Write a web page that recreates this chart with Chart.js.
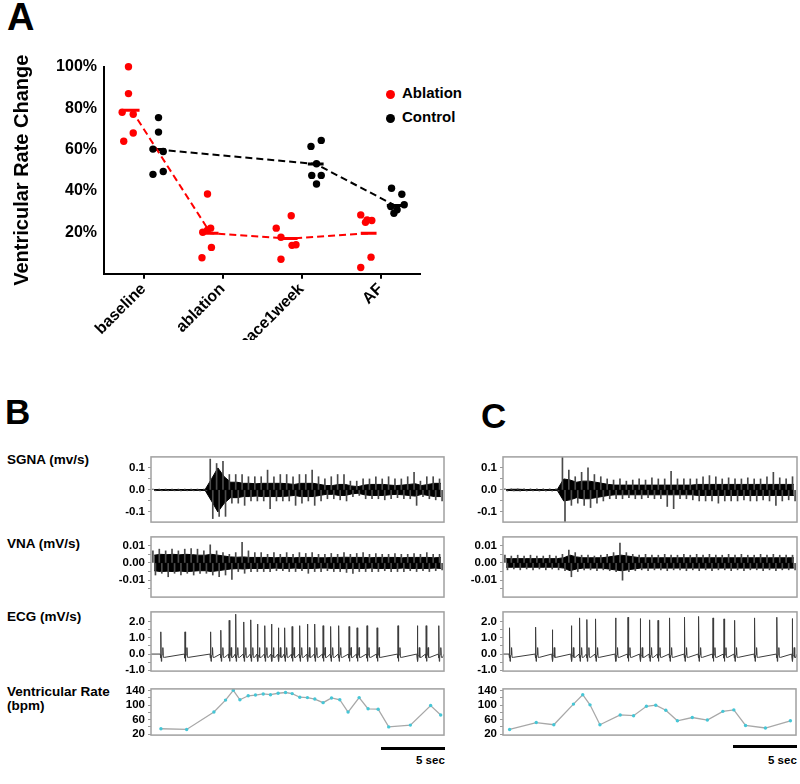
<!DOCTYPE html>
<html>
<head>
<meta charset="utf-8">
<script src="https://cdn.jsdelivr.net/npm/chart.js@4.4.1/dist/chart.umd.min.js"></script>
<style>
  body { margin: 0; background: #fff; }
  #page { position: relative; width: 800px; height: 784px; overflow: hidden;
          font-family: "Liberation Sans", Arial, sans-serif; font-weight: bold; color: #000; }
  .t { position: absolute; white-space: nowrap; line-height: 1; }
  canvas { position: absolute; }
  .bar { position: absolute; background: #000; height: 3px; }
  .dot { position: absolute; width: 9px; height: 9px; border-radius: 50%; }
</style>
</head>
<body>
<div id="page">
  <div class="t" style="left:7px;top:-2px;font-size:38px;">A</div>
  <div class="t" style="left:5px;top:394px;font-size:35px;">B</div>
  <div class="t" style="left:481px;top:398px;font-size:35px;">C</div>

  <div class="dot" style="left:386px;top:90px;background:#f00;"></div>
  <div class="t" style="left:402px;top:85px;font-size:15px;">Ablation</div>
  <div class="dot" style="left:386px;top:114px;background:#000;"></div>
  <div class="t" style="left:402px;top:109px;font-size:15px;">Control</div>

  <div class="t" style="left:7px;top:453px;font-size:13.5px;">SGNA (mv/s)</div>
  <div class="t" style="left:7px;top:537px;font-size:13.5px;">VNA (mV/s)</div>
  <div class="t" style="left:7px;top:610px;font-size:13.5px;">ECG (mV/s)</div>
  <div class="t" style="left:7px;top:685px;font-size:13.5px;">Ventricular Rate</div>
  <div class="t" style="left:7px;top:699px;font-size:13.5px;">(bpm)</div>

  <div class="bar" style="left:381px;top:747px;width:64px;"></div>
  <div class="t" style="left:416px;top:755px;font-size:11.5px;">5 sec</div>
  <div class="bar" style="left:733px;top:745px;width:64px;"></div>
  <div class="t" style="left:768px;top:755px;font-size:11.5px;">5 sec</div>

  <canvas id="chartA" width="480" height="340" style="left:0;top:0;"></canvas>

  <canvas id="sgnaB" width="350" height="85" style="left:100px;top:447px;"></canvas>
  <canvas id="vnaB" width="350" height="80" style="left:100px;top:527px;"></canvas>
  <canvas id="ecgB" width="350" height="79" style="left:100px;top:602px;"></canvas>
  <canvas id="vrB" width="350" height="66" style="left:100px;top:679px;"></canvas>

  <canvas id="sgnaC" width="348" height="85" style="left:452px;top:447px;"></canvas>
  <canvas id="vnaC" width="348" height="80" style="left:452px;top:527px;"></canvas>
  <canvas id="ecgC" width="348" height="79" style="left:452px;top:602px;"></canvas>
  <canvas id="vrC" width="348" height="66" style="left:452px;top:679px;"></canvas>
</div>

<script>
// ---- panel A: ventricular rate change per group ----
const groups = ['baseline', 'ablation', 'pace1week', 'AF'];
const yTicksA = [20, 40, 60, 80, 100];

const ablationVals = [
  [100, 87, 78, 77, 68, 64],
  [38.5, 20, 21, 22, 12.7, 7.7],
  [22, 28, 17.6, 13.7, 14, 7],
  [28.4, 26, 25.7, 24.8, 8, 3]
];
const ablationJitter = [
  [-0.19, -0.19, -0.27, -0.13, -0.13, -0.25],
  [-0.19, -0.25, -0.19, -0.15, -0.14, -0.26],
  [-0.32, -0.13, -0.26, -0.12, -0.07, -0.26],
  [-0.25, -0.17, -0.11, -0.19, -0.12, -0.25]
];
const ablationMeans = [79, 19.5, 17, 19.5];

const controlGroups = [0, 2, 3];
const controlVals = [
  [75.4, 68.4, 60.2, 59, 48, 49.4],
  [61.5, 64.4, 53.1, 47.5, 47.5, 43.3],
  [41.3, 38.4, 32.5, 30.9, 33.3, 29.2]
];
const controlJitter = [
  [0.19, 0.19, 0.12, 0.25, 0.12, 0.25],
  [0.12, 0.25, 0.19, 0.13, 0.25, 0.19],
  [0.14, 0.27, 0.13, 0.21, 0.3, 0.17]
];
const controlMeans = [60, 53, 33];

// ---- panels B/C: recordings, 0.5 s bins for the nerve traces ----
const traceSeconds = 23;
const binSec = 0.5;

const sgnaBHi = [0.004,0.004,0.004,0.004,0.004,0.004,0.004,0.004,0.004, 0.14,0.12,0.13,
  0.07,0.07,0.07,0.06,0.06,0.06, 0.09,0.06,0.07,0.07,0.06,0.07, 0.07,0.09,0.06,0.05,0.06,0.07,
  0.07,0.04,0.04,0.05,0.05,0.06, 0.05,0.06,0.05,0.05,0.06,0.08, 0.04,0.06,0.06,0.05];
const sgnaBLo = [-0.004,-0.004,-0.004,-0.004,-0.004,-0.004,-0.004,-0.004,-0.004, -0.13,-0.12,-0.12,
  -0.06,-0.06,-0.07,-0.05,-0.05,-0.05, -0.085,-0.05,-0.05,-0.05,-0.07,-0.06, -0.05,-0.07,-0.05,-0.04,-0.04,-0.045,
  -0.05,-0.03,-0.025,-0.04,-0.04,-0.04, -0.045,-0.04,-0.035,-0.04,-0.04,-0.07, -0.03,-0.04,-0.045,-0.05];
const sgnaBCore = [0.002,0.002,0.002,0.002,0.002,0.002,0.002,0.002,0.002, 0.05,0.1,0.06,
  0.035,0.035,0.03,0.03,0.028,0.03, 0.03,0.03,0.03,0.028,0.025,0.03, 0.03,0.03,0.025,0.02,0.02,0.025,
  0.025,0.018,0.015,0.022,0.025,0.025, 0.025,0.022,0.02,0.022,0.025,0.028, 0.02,0.025,0.03,0.03];

const sgnaCHi = [0.005,0.005,0.005,0.005,0.005,0.005,0.005,0.005,0.005, 0.155,0.09,0.06,
  0.08,0.1,0.07,0.06,0.05,0.045, 0.05,0.04,0.045,0.05,0.045,0.055, 0.05,0.05,0.085,0.05,0.05,0.05,
  0.05,0.06,0.065,0.06,0.05,0.055, 0.05,0.05,0.055,0.05,0.05,0.06, 0.08,0.055,0.05,0.06];
const sgnaCLo = [-0.005,-0.005,-0.005,-0.005,-0.005,-0.005,-0.005,-0.005,-0.005, -0.155,-0.07,-0.06,
  -0.07,-0.08,-0.06,-0.05,-0.04,-0.04, -0.04,-0.035,-0.04,-0.04,-0.035,-0.04, -0.04,-0.075,-0.085,-0.04,-0.04,-0.045,
  -0.05,-0.05,-0.05,-0.06,-0.05,-0.05, -0.05,-0.045,-0.05,-0.05,-0.045,-0.05, -0.07,-0.05,-0.045,-0.05];
const sgnaCCore = [0.002,0.003,0.003,0.002,0.002,0.002,0.002,0.002,0.002, 0.05,0.045,0.035,
  0.04,0.04,0.035,0.03,0.025,0.022, 0.022,0.022,0.022,0.022,0.022,0.022, 0.022,0.022,0.022,0.022,0.022,0.022,
  0.025,0.025,0.025,0.025,0.025,0.025, 0.025,0.025,0.025,0.025,0.025,0.025, 0.025,0.025,0.025,0.025];

const vnaBHi = [0.007,0.008,0.007,0.008,0.007,0.008,0.0084,0.008,0.007, 0.0105,0.007,0.006,
  0.005,0.006,0.012,0.007,0.006,0.006, 0.005,0.006,0.005,0.006,0.005,0.006, 0.0055,0.006,0.005,0.005,0.0055,0.005,
  0.006,0.005,0.0055,0.006,0.005,0.0055, 0.005,0.005,0.0055,0.005,0.005,0.0055, 0.005,0.006,0.005,0.005];
const vnaBLo = [-0.007,-0.006,-0.008,-0.006,-0.007,-0.006,-0.007,-0.006,-0.006, -0.007,-0.008,-0.007,
  -0.0095,-0.005,-0.006,-0.005,-0.005,-0.005, -0.005,-0.0045,-0.0045,-0.005,-0.005,-0.0045, -0.006,-0.005,-0.005,-0.0045,-0.005,-0.005,
  -0.0055,-0.006,-0.005,-0.005,-0.005,-0.005, -0.0045,-0.005,-0.005,-0.005,-0.0045,-0.005, -0.0045,-0.005,-0.0045,-0.004];
const vnaBCore = [0.0045,0.005,0.0048,0.005,0.0047,0.005,0.0048,0.0045,0.0045, 0.005,0.0045,0.004,
  0.0035,0.0033,0.0035,0.0032,0.0032,0.0032, 0.0032,0.003,0.0032,0.0032,0.003,0.0032, 0.0032,0.0032,0.003,0.003,0.0032,0.0032,
  0.0033,0.0032,0.0032,0.0032,0.003,0.0032, 0.0032,0.0032,0.0032,0.003,0.0032,0.0032, 0.0032,0.0032,0.003,0.0032];

const vnaCHi = [0.0045,0.004,0.0045,0.004,0.0045,0.004,0.004,0.0045,0.004, 0.005,0.0075,0.006,
  0.0045,0.0045,0.004,0.0045,0.005,0.006, 0.0115,0.006,0.005,0.0045,0.005,0.0045, 0.0045,0.005,0.0045,0.0045,0.005,0.0045,
  0.005,0.0045,0.005,0.0045,0.0045,0.005, 0.0045,0.005,0.0045,0.0045,0.005,0.0045, 0.005,0.0045,0.0045,0.0045];
const vnaCLo = [-0.004,-0.0035,-0.004,-0.0035,-0.004,-0.0035,-0.004,-0.0035,-0.004, -0.0045,-0.008,-0.005,
  -0.004,-0.004,-0.0045,-0.004,-0.0045,-0.005, -0.01,-0.005,-0.0045,-0.004,-0.0045,-0.004, -0.004,-0.0045,-0.004,-0.004,-0.0045,-0.004,
  -0.0045,-0.004,-0.0045,-0.004,-0.004,-0.0045, -0.004,-0.0045,-0.004,-0.004,-0.0045,-0.004, -0.0045,-0.004,-0.004,-0.004];
const vnaCCore = [0.0025,0.0025,0.0025,0.0025,0.0025,0.0025,0.0025,0.0025,0.0025, 0.003,0.0045,0.0035,
  0.003,0.003,0.003,0.003,0.0035,0.004, 0.0045,0.004,0.0035,0.003,0.003,0.003, 0.003,0.003,0.003,0.003,0.003,0.003,
  0.003,0.003,0.003,0.003,0.003,0.003, 0.003,0.003,0.003,0.003,0.003,0.003, 0.003,0.003,0.003,0.003];

// ECG: R-wave times (s) and heights (mV/s), plus one beat shape
const ecgBTimes = [0.78,2.67,4.68,5.49,6.14,6.66,7.29,7.84,8.36,8.94,9.46,10.0,10.5,11.08,11.68,12.28,12.86,13.51,14.11,14.74,15.55,16.18,16.96,17.75,19.39,20.91,21.6,22.6];
const ecgBPeaks = [1.37,1.37,1.37,1.47,2.08,2.46,1.98,2.11,1.85,1.75,1.85,1.62,1.62,1.7,1.75,1.85,1.85,1.75,1.7,1.75,1.7,1.62,1.75,1.62,1.75,1.75,1.75,1.75];
const ecgCTimes = [0.52,2.56,3.86,5.35,6.0,6.57,7.25,8.81,9.78,10.74,11.47,12.13,13.04,14.21,15.31,16.43,17.29,18.12,19.69,21.43,22.63];
const ecgCPeaks = [1.62,1.66,1.5,1.75,2.23,2.13,2.17,2.23,2.27,2.19,2.11,2.08,2.23,2.27,2.32,2.23,2.17,2.08,2.23,2.27,2.19];
const beatDt = [-0.05, -0.02, 0, 0.03, 0.06, 0.12, 0.15, 0.19, 0.3];
const beatV  = [0, -0.25, null, -0.45, -0.1, -0.05, 0.4, -0.2, -0.2];

const vrBTimes = [0.78,2.8,4.94,5.85,6.46,6.98,7.63,8.2,8.81,9.38,9.98,10.56,11.08,11.68,12.28,12.86,13.51,14.17,14.82,15.47,16.34,17.04,17.83,18.66,20.36,21.95,22.74];
const vrBRates = [35,33,81,114,141,115,126,128,131,129,133,135,132,122,121,117,107,120,115,81,121,90,89,40,45,99,73];
const vrCTimes = [0.52,2.61,3.99,5.53,6.26,6.83,7.61,9.2,10.25,11.26,11.99,12.78,13.69,14.86,16.04,17.26,18.12,19.04,20.6,22.56];
const vrCRates = [33,52,46,103,129,101,46,73,71,97,100,86,57,66,59,83,87,44,37,57];

// ---- shared setup ----
Chart.defaults.font.family = '"Liberation Sans", Arial, sans-serif';
Chart.defaults.color = '#000';
Chart.defaults.animation = false;
Chart.defaults.responsive = false;
Chart.defaults.plugins.legend.display = false;
Chart.defaults.plugins.tooltip.enabled = false;

const RED = '#f00';
const ablationCenter = -0.15;
const controlCenter = 0.18;
const meanHalf = 0.1;

// grey box round each recording
const framePlugin = {
  id: 'frame',
  afterDatasetsDraw(chart) {
    const { ctx, chartArea: a } = chart;
    ctx.save();
    ctx.strokeStyle = '#a0a0a0';
    ctx.lineWidth = 1.5;
    ctx.strokeRect(a.left, a.top, a.right - a.left, a.bottom - a.top);
    ctx.restore();
  }
};

function meanSegments(idx, means, center) {
  const pts = [];
  means.forEach((m, i) => {
    pts.push({ x: idx[i] + center - meanHalf, y: m }, { x: idx[i] + center + meanHalf, y: m }, { x: idx[i], y: null });
  });
  return pts;
}

function groupPoints(idx, vals, jitter) {
  const pts = [];
  vals.forEach((arr, g) => arr.forEach((v, k) => pts.push({ x: idx[g] + jitter[g][k], y: v })));
  return pts;
}

const ablationIdx = groups.map((g, i) => i);

new Chart(document.getElementById('chartA'), {
  type: 'line',
  data: {
    datasets: [
      { data: groupPoints(ablationIdx, ablationVals, ablationJitter), showLine: false, clip: false,
        pointRadius: 3.7, pointBackgroundColor: RED, pointBorderWidth: 0 },
      { data: groupPoints(controlGroups, controlVals, controlJitter), showLine: false, clip: false,
        pointRadius: 3.7, pointBackgroundColor: '#000', pointBorderWidth: 0 },
      { data: ablationMeans.map((m, i) => ({ x: ablationIdx[i] + ablationCenter, y: m })),
        borderColor: RED, borderWidth: 2, borderDash: [7, 4], pointRadius: 0 },
      { data: controlMeans.map((m, i) => ({ x: controlGroups[i] + controlCenter, y: m })),
        borderColor: '#000', borderWidth: 2, borderDash: [7, 4], pointRadius: 0 },
      { data: meanSegments(ablationIdx, ablationMeans, ablationCenter), spanGaps: false,
        borderColor: RED, borderWidth: 3, pointRadius: 0 },
      { data: meanSegments(controlGroups, controlMeans, controlCenter), spanGaps: false,
        borderColor: '#000', borderWidth: 3, pointRadius: 0 }
    ]
  },
  options: {
    layout: { padding: { left: 0, top: 66.7, right: 60, bottom: 0 } },
    scales: {
      x: {
        type: 'linear', min: -0.5, max: groups.length - 0.5,
        afterBuildTicks: s => { s.ticks = groups.map((g, i) => ({ value: i })); },
        afterFit: s => { s.height = 66.3; },
        border: { display: true, color: '#000', width: 2 },
        grid: { display: true, drawOnChartArea: false, drawTicks: true, tickLength: 5, color: '#000', lineWidth: 2 },
        ticks: { autoSkip: false, minRotation: 45, maxRotation: 45, padding: 1,
                 font: { size: 16, weight: 'bold' }, color: '#000', callback: v => groups[v] }
      },
      y: {
        min: 0, max: 100,
        afterBuildTicks: s => { s.ticks = yTicksA.map(v => ({ value: v })); },
        afterFit: s => { s.width = 104; },
        border: { display: true, color: '#000', width: 2 },
        grid: { display: false, drawTicks: false },
        ticks: { padding: 7, font: { size: 16, weight: 'bold' }, color: '#000', callback: v => v + '%' },
        title: { display: true, text: 'Ventricular Rate Change', color: '#000',
                 font: { size: 20, weight: 'bold' }, padding: { top: 10, bottom: 0 } }
      }
    }
  }
});

// noise trace: dense black core band, with thin grey up/down spikes to each bin's peaks
function noiseSets(hi, lo, core) {
  const up = [], down = [], top = [], bot = [];
  hi.forEach((h, k) => {
    const t0 = k * binSec;
    up.push({ x: t0 + binSec * 0.3, y: [0, h] });
    down.push({ x: t0 + binSec * 0.7, y: [lo[k], 0] });
    top.push({ x: t0 + binSec / 2, y: core[k] });
    bot.push({ x: t0 + binSec / 2, y: -core[k] });
  });
  const spike = { type: 'bar', grouped: false, barThickness: 1, backgroundColor: '#4a4a4a', borderWidth: 0 };
  return [
    Object.assign({ data: up }, spike),
    Object.assign({ data: down }, spike),
    { data: top, borderColor: '#000', borderWidth: 1, pointRadius: 0, fill: '+1', backgroundColor: '#000' },
    { data: bot, borderColor: '#000', borderWidth: 1, pointRadius: 0 }
  ];
}

function ecgSet(times, peaks) {
  const pts = [{ x: 0, y: 0 }];
  times.forEach((t, i) => {
    beatDt.forEach((dt, j) => pts.push({ x: t + dt, y: beatV[j] === null ? peaks[i] : beatV[j] }));
  });
  pts.push({ x: traceSeconds, y: 0 });
  return [{ data: pts, borderColor: '#3c3c3c', borderWidth: 1, pointRadius: 0 }];
}

function rateSet(times, rates) {
  return [{ data: times.map((t, i) => ({ x: t, y: rates[i] })), borderColor: '#a8a8a8', borderWidth: 1.3,
            pointRadius: 1.7, pointBackgroundColor: '#45c6d6', pointBorderWidth: 0 }];
}

function traceChart(id, datasets, yMin, yMax, major, minor, decimals, padRight) {
  new Chart(document.getElementById(id), {
    type: 'line',
    data: { datasets },
    plugins: [framePlugin],
    options: {
      layout: { padding: { left: 0, top: 8, bottom: 8, right: padRight } },
      scales: {
        x: { type: 'linear', min: 0, max: traceSeconds, offset: false, display: false },
        y: {
          min: yMin, max: yMax,
          afterBuildTicks: s => { s.ticks = major.concat(minor).map(v => ({ value: v })); },
          afterFit: s => { s.width = 51; },
          border: { display: false },
          grid: { drawOnChartArea: false, drawTicks: true, tickLength: 3, color: '#999' },
          ticks: { padding: 3, autoSkip: false, font: { size: 11.5, weight: 'bold' }, color: '#000',
                   callback: v => major.includes(v) ? v.toFixed(decimals) : '' }
        }
      }
    }
  });
}

const sgnaTicks = [0.1, 0, -0.1], sgnaMinor = [0.05, -0.05];
const vnaTicks = [0.01, 0, -0.01], vnaMinor = [0.005, -0.005, -0.015];
const ecgTicks = [2, 1, 0, -1], ecgMinor = [1.5, 0.5, -0.5];
const vrTicks = [140, 100, 60, 20], vrMinor = [120, 80, 40];

traceChart('sgnaB', noiseSets(sgnaBHi, sgnaBLo, sgnaBCore), -0.146, 0.15, sgnaTicks, sgnaMinor, 1, 6);
traceChart('vnaB', noiseSets(vnaBHi, vnaBLo, vnaBCore), -0.0198, 0.0151, vnaTicks, vnaMinor, 2, 6);
traceChart('ecgB', ecgSet(ecgBTimes, ecgBPeaks), -1.05, 2.6, ecgTicks, ecgMinor, 1, 6);
traceChart('vrB', rateSet(vrBTimes, vrBRates), 17.4, 145, vrTicks, vrMinor, 0, 6);

traceChart('sgnaC', noiseSets(sgnaCHi, sgnaCLo, sgnaCCore), -0.146, 0.15, sgnaTicks, sgnaMinor, 1, 3);
traceChart('vnaC', noiseSets(vnaCHi, vnaCLo, vnaCCore), -0.0198, 0.0151, vnaTicks, vnaMinor, 2, 3);
traceChart('ecgC', ecgSet(ecgCTimes, ecgCPeaks), -1.05, 2.6, ecgTicks, ecgMinor, 1, 3);
traceChart('vrC', rateSet(vrCTimes, vrCRates), 17.4, 145, vrTicks, vrMinor, 0, 3);
</script>
</body>
</html>
